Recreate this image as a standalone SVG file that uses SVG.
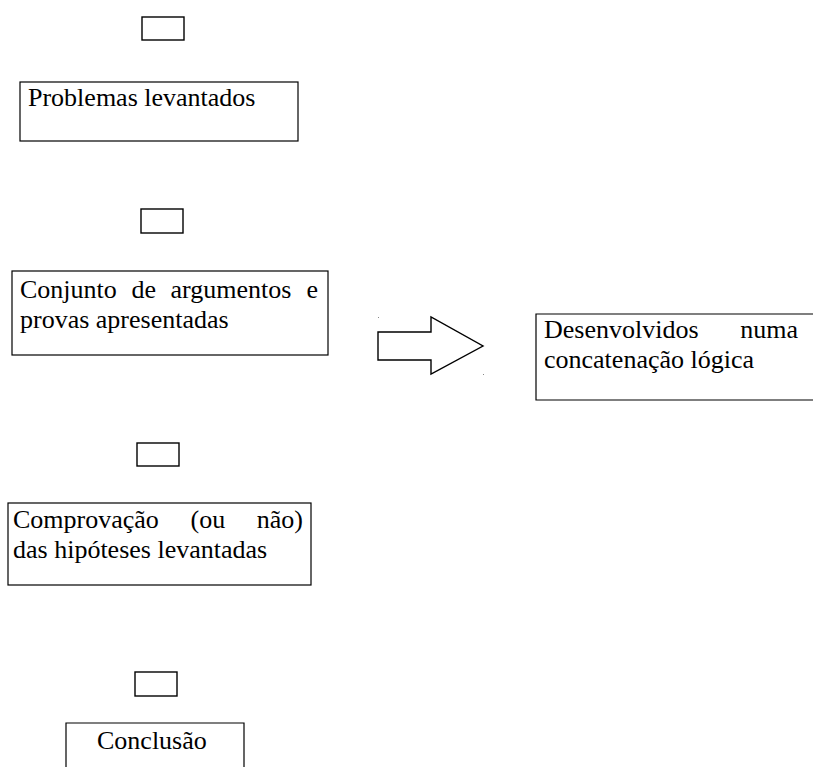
<svg xmlns="http://www.w3.org/2000/svg" width="813" height="767" viewBox="0 0 813 767">
<style>
.box{fill:#fff;stroke:#000;stroke-width:1.2}
.sm{fill:#fff;stroke:#000;stroke-width:1.4}
text{font-family:'Liberation Serif','Times New Roman',Tinos,Times,serif;font-size:26px;fill:#000}
</style>
<rect width="813" height="767" fill="#fff"/>
<g id="small1"><rect class="sm" x="142" y="17" width="42" height="23"/></g>
<g id="node-problemas">
<rect class="box" x="20" y="82" width="278" height="59"/>
<text x="28" y="106">Problemas levantados</text>
</g>
<g id="small2"><rect class="sm" x="141" y="209" width="42" height="24"/></g>
<g id="node-conjunto">
<rect class="box" x="12" y="271" width="316" height="84"/>
<text y="298"><tspan x="20">Conjunto</tspan><tspan x="131.4">de</tspan><tspan x="170.5">argumentos</tspan><tspan x="318" text-anchor="end">e</tspan></text>
<text x="20" y="328">provas apresentadas</text>
</g>
<g id="connectors">
<path d="M378,332 H431 V317 L483,346 L431,374 V360 H378 Z" fill="#fff" stroke="#000" stroke-width="1.4"/>
<rect x="378" y="317" width="1" height="1" fill="#888"/>
<rect x="483" y="374" width="1" height="1" fill="#888"/>
</g>
<g id="node-desenvolvidos">
<path class="box" d="M820,314 H536 V400 H820"/>
<text y="338"><tspan x="544">Desenvolvidos</tspan><tspan x="798" text-anchor="end">numa</tspan></text>
<text x="544" y="368">concatenação lógica</text>
</g>
<g id="small3"><rect class="sm" x="137" y="443" width="42" height="23"/></g>
<g id="node-comprovacao">
<rect class="box" x="8" y="503" width="303" height="82"/>
<text y="528"><tspan x="13">Comprovação</tspan><tspan x="190.5">(ou</tspan><tspan x="303" text-anchor="end">não)</tspan></text>
<text x="13" y="558">das hipóteses levantadas</text>
</g>
<g id="small4"><rect class="sm" x="135" y="672" width="42" height="24"/></g>
<g id="node-conclusao">
<path class="box" d="M66,775 V723 H244 V775"/>
<text x="97" y="749">Conclusão</text>
</g>
</svg>
